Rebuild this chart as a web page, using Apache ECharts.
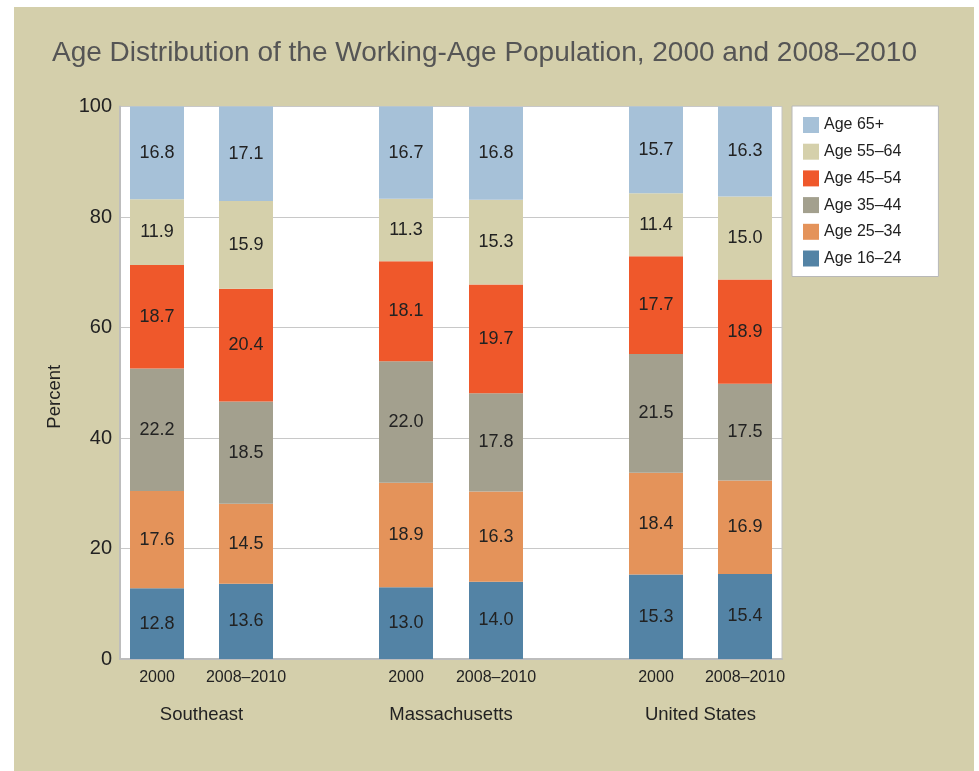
<!DOCTYPE html>
<html>
<head>
<meta charset="utf-8">
<script src="https://cdn.jsdelivr.net/npm/echarts@6/dist/echarts.min.js"></script>
<style>
  html, body { margin: 0; padding: 0; background: #fff; }
  #chart { position: absolute; left: 14px; top: 7px; width: 960px; height: 764px; }
</style>
</head>
<body>
<div id="chart"></div>
<script>
// bar slots on the x axis (arbitrary units), one per period per region
const barPos = [3.7, 12.6, 28.6, 37.6, 53.6, 62.5]
const periods = ['2000', '2008–2010', '2000', '2008–2010', '2000', '2008–2010']
const regionPos = [8.15, 33.1, 58.05]
const regions = ['Southeast', 'Massachusetts', 'United States']

// percent shares, bottom of stack first
const age1624 = [12.8, 13.6, 13.0, 14.0, 15.3, 15.4]
const age2534 = [17.6, 14.5, 18.9, 16.3, 18.4, 16.9]
const age3544 = [22.2, 18.5, 22.0, 17.8, 21.5, 17.5]
const age4554 = [18.7, 20.4, 18.1, 19.7, 17.7, 18.9]
const age5564 = [11.9, 15.9, 11.3, 15.3, 11.4, 15.0]
const age65 = [16.8, 17.1, 16.7, 16.8, 15.7, 16.3]

const groups = [
  { name: 'Age 16–24', values: age1624, color: '#5383a5' },
  { name: 'Age 25–34', values: age2534, color: '#e4935a' },
  { name: 'Age 35–44', values: age3544, color: '#a3a08e' },
  { name: 'Age 45–54', values: age4554, color: '#ef582b' },
  { name: 'Age 55–64', values: age5564, color: '#d5d0ab' },
  { name: 'Age 65+', values: age65, color: '#a6c1d8' },
]

const chart = echarts.init(document.getElementById('chart'))
const font = 'Liberation Sans, Arial, sans-serif'

chart.setOption({
  backgroundColor: '#d4cfab',
  animation: false,
  textStyle: { fontFamily: font },
  title: {
    text: 'Age Distribution of the Working-Age Population, 2000 and 2008–2010',
    left: 33,
    top: 27,
    textStyle: { fontSize: 28, fontWeight: 'normal', color: '#555', fontFamily: font },
  },
  legend: {
    orient: 'vertical',
    left: 778,
    top: 99,
    data: groups.map(g => g.name).reverse(),
    icon: 'rect',
    itemWidth: 16,
    itemHeight: 16,
    itemGap: 10.7,
    padding: [11, 37, 10, 11],
    backgroundColor: '#fff',
    borderColor: '#b8b8b8',
    borderWidth: 1,
    textStyle: { fontSize: 16, color: '#222', fontFamily: font },
  },
  grid: {
    left: 106, right: 192, top: 99.5, bottom: 112,
    show: true,
    backgroundColor: '#fff',
    borderColor: '#c4c4c4',
    borderWidth: 1,
  },
  xAxis: [
    {
      type: 'value',
      min: 0,
      max: 66.2,
      axisLine: { show: true, lineStyle: { color: '#bdbdbd', width: 2 } },
      axisTick: { show: false },
      splitLine: { show: false },
      axisLabel: {
        customValues: barPos,
        margin: 11,
        fontSize: 16,
        color: '#222',
        formatter: v => periods[barPos.indexOf(v)] || '',
      },
    },
    {
      type: 'value',
      position: 'bottom',
      offset: 36,
      min: 0,
      max: 66.2,
      axisLine: { show: false },
      axisTick: { show: false },
      splitLine: { show: false },
      axisLabel: {
        customValues: regionPos,
        margin: 10,
        fontSize: 18.5,
        color: '#222',
        formatter: v => regions[regionPos.indexOf(v)] || '',
      },
    },
  ],
  yAxis: {
    type: 'value',
    min: 0,
    max: 100,
    interval: 20,
    name: 'Percent',
    nameLocation: 'middle',
    nameGap: 56,
    nameTextStyle: { fontSize: 18.5, color: '#222', padding: [0, 28, 0, 0] },
    axisLine: { show: true, lineStyle: { color: '#bdbdbd', width: 2 } },
    axisTick: { show: false },
    axisLabel: { fontSize: 20, color: '#222', margin: 8 },
    splitLine: { lineStyle: { color: '#c8c8c8', width: 1 } },
  },
  series: groups.map(g => ({
    name: g.name,
    type: 'bar',
    stack: 'total',
    xAxisIndex: 0,
    barWidth: 54,
    // value first so that the stack runs along y
    encode: { x: 1, y: 0 },
    itemStyle: { color: g.color },
    label: {
      show: true,
      position: 'inside',
      fontSize: 18,
      color: '#222',
      formatter: p => p.value[0].toFixed(1),
    },
    data: g.values.map((v, i) => [v, barPos[i]]),
  })),
})
</script>
</body>
</html>
